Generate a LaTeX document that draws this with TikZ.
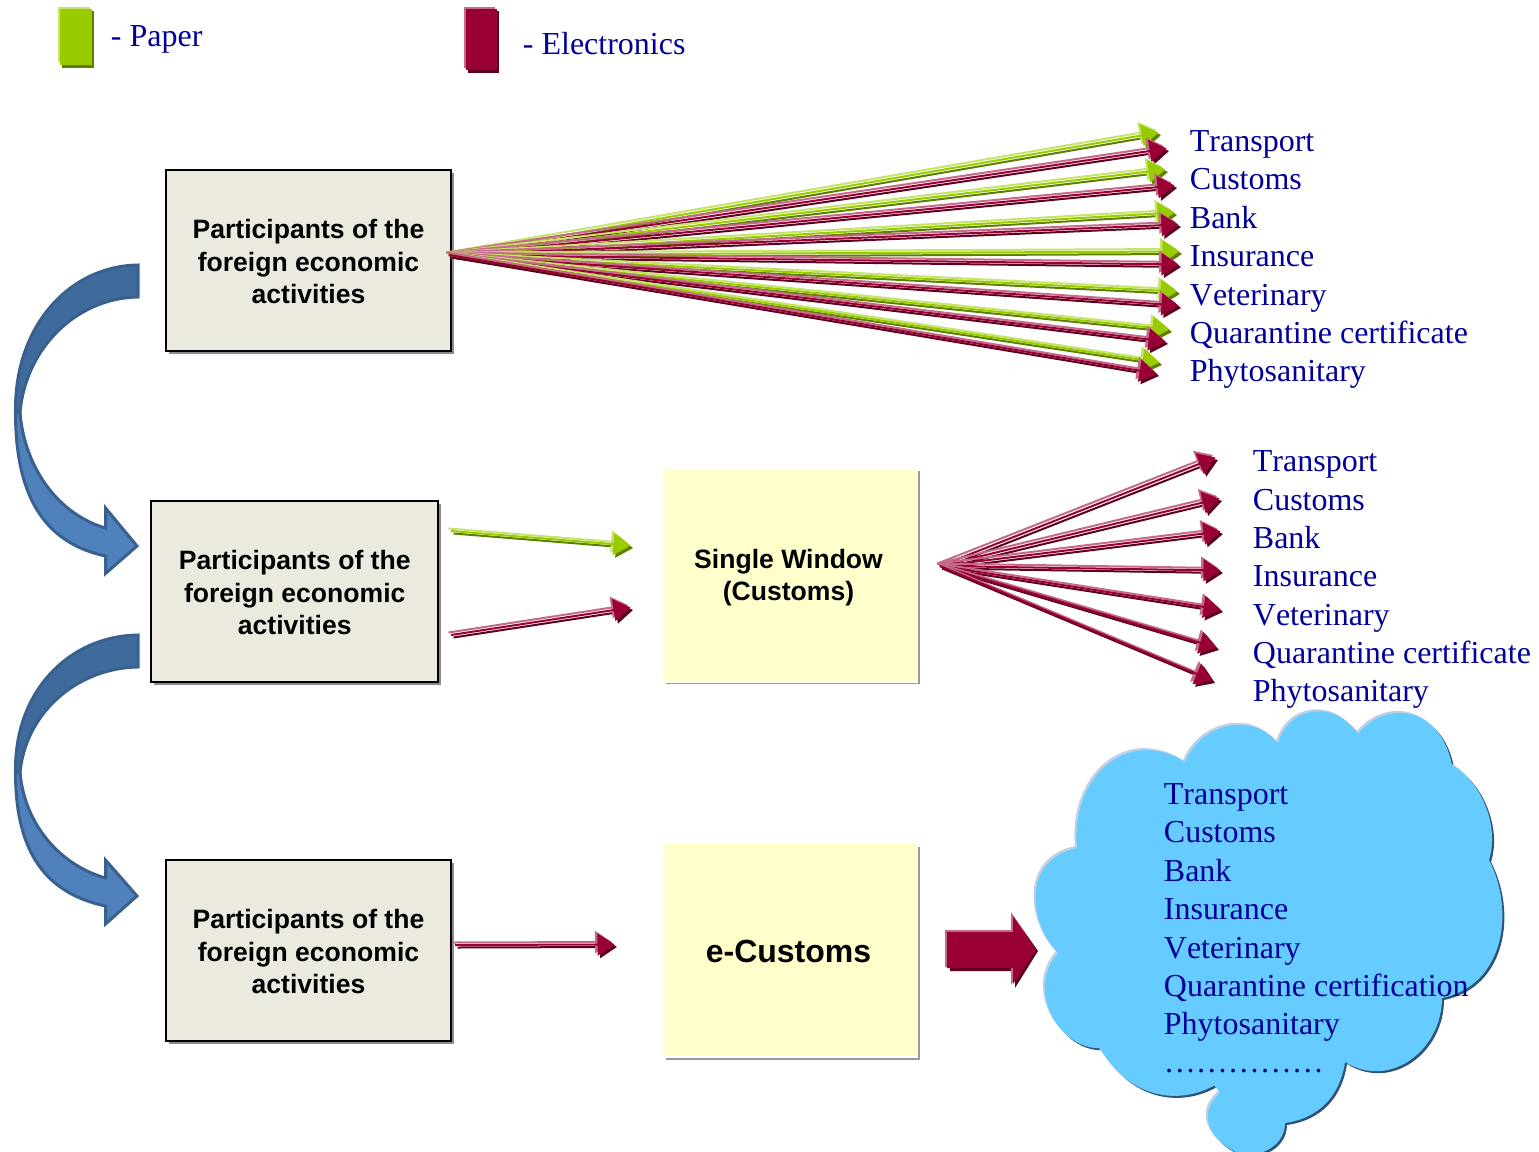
\documentclass[tikz,border=0pt]{standalone}
\usepackage{fontspec}
\setmainfont[Kerning=Off]{Liberation Serif}
\setsansfont{Liberation Sans}
\usetikzlibrary{arrows.meta,calc,shadows}
\definecolor{gmain}{HTML}{99CC00}
\definecolor{glight}{HTML}{C6E36B}
\definecolor{gdark}{HTML}{5F7F00}
\definecolor{mmain}{HTML}{990033}
\definecolor{mlight}{HTML}{C46A8A}
\definecolor{mdark}{HTML}{5E001F}
\definecolor{ttext}{HTML}{000099}
\definecolor{boxfill}{HTML}{ECE9DF}
\definecolor{noteyellow}{HTML}{FFFFCC}
\definecolor{noteedge}{HTML}{999999}
\definecolor{bluelow}{HTML}{4F81BD}
\definecolor{blueup}{HTML}{3F6A9C}
\definecolor{blueedge}{HTML}{38618F}
\definecolor{cloudfill}{HTML}{66CCFF}
\definecolor{cloudlight}{HTML}{C0D0E4}
\definecolor{clouddark}{HTML}{2F5375}
\tikzset{
  partbox/.style={draw=black,line width=1pt,fill=boxfill,minimum width=142.5pt,minimum height=90.5pt,
    align=center,inner sep=0pt,font=\sffamily\bfseries\fontsize{13.28}{16.2}\selectfont,
    drop shadow={shadow xshift=1.5pt,shadow yshift=-1.5pt,fill=black!45,opacity=1}},
  notebox/.style={fill=noteyellow,minimum width=126.75pt,inner sep=0pt,align=center},
  noteshadow/.style={draw=noteedge,line width=.9pt},
  notetext/.style={inner sep=0pt,align=center,font=\sffamily\bfseries\fontsize{13.28}{16}\selectfont},
  listitem/.style={anchor=base west,inner sep=0pt,text=ttext,font=\fontsize{16}{19}\selectfont},
  shaft/.style={line width=1pt,-{Triangle[length=8.5pt,width=11pt]}},
  bluearrow/.style={draw=blueedge,line width=1.5pt,line join=miter}
}
% three-layer arrow: from, to, colour prefix
\newcommand{\layered}[3]{%
  \draw[shaft,#3dark]  ($(#1)+(2.5,2.5)$) -- (#2);
  \draw[shaft,#3light] ($(#1)+(-2.5,-2.5)$) -- ($(#2)+(-5,-5)$);
  \draw[shaft,#3main]  (#1) -- ($(#2)+(-2.5,-2.5)$);
}
\newcommand{\boxtext}{\rule{0pt}{10.7pt}Participants of the\\foreign economic\\activities}
\newcommand{\cloudoutline}{%
  (1077,848) .. controls (1070,780) and (1125,725) .. (1185,762)
  .. controls (1200,725) and (1250,710) .. (1278,743)
  .. controls (1290,705) and (1335,700) .. (1358,734)
  .. controls (1385,700) and (1440,705) .. (1452,765)
  .. controls (1480,780) and (1500,825) .. (1489,860)
  .. controls (1515,910) and (1505,985) .. (1442,998)
  .. controls (1442,1050) and (1390,1090) .. (1345,1062)
  .. controls (1340,1095) and (1320,1118) .. (1285,1123)
  .. controls (1285,1150) and (1250,1162) .. (1232,1150)
  .. controls (1205,1135) and (1200,1110) .. (1220,1093)
  -- (1215,1085)
  .. controls (1180,1105) and (1130,1100) .. (1100,1048)
  .. controls (1060,1050) and (1025,990) .. (1058,953)
  .. controls (1030,925) and (1020,860) .. (1077,848) -- cycle}
\begin{document}
\begin{tikzpicture}[x=0.5pt,y=-0.5pt]
\useasboundingbox (0,0) rectangle (1539,1152);
% legend
\fill[gdark] (62,11) rectangle (94,68);
\fill[glight] (58,7) rectangle (90,62);
\fill[gmain] (60,9) rectangle (92,65);
\fill[mdark] (468,11) rectangle (499,73);
\fill[mlight] (464,7) rectangle (495,68);
\fill[mmain] (466,9) rectangle (497,70);
\node[listitem] (lpaper) at (110.5,46.5) {- Paper};
\node[listitem] (lelec) at (522.5,54) {- Electronics};
% boxes
\node[partbox] (box1) at (308.5,260.5) {\boxtext};
\node[partbox,minimum width=143.5pt] (box2) at (294.75,591.5) {\boxtext};
\node[partbox] (box3) at (308.5,950.5) {\boxtext};
\node[notebox,minimum height=106pt] (sw) at (789.75,574.5) {};
\draw[noteshadow] ($(sw.south west)+(3,2.5)$) -- ($(sw.south east)+(2,2.5)$) -- ($(sw.north east)+(2,3)$);
\node[notetext] (swt) at (788.5,578) {Single Window\\(Customs)};
\node[notebox,minimum height=105.75pt] (ec) at (789.75,950) {};
\draw[noteshadow] ($(ec.south west)+(3,2.5)$) -- ($(ec.south east)+(2,2.5)$) -- ($(ec.north east)+(2,3)$);
\node[notetext,font=\sffamily\bfseries\fontsize{16}{19}\selectfont] (ect) at (788.5,951) {e-Customs};
% list 1
\foreach \n/\t/\yy in {a/Transport/151.5,b/Customs/189.5,c/Bank/228.5,d/Insurance/266.5,e/Veterinary/305,f/Quarantine certificate/343,g/Phytosanitary/381}
  \node[listitem] (ta\n) at (1189.5,\yy) {\t};
% list 2
\foreach \n/\t/\yy in {a/Transport/471,b/Customs/510,c/Bank/548,d/Insurance/586,e/Veterinary/625,f/Quarantine certificate/663,g/Phytosanitary/701}
  \node[listitem] (tb\n) at (1252.5,\yy) {\t};
% fan 1
\coordinate (fa) at (449,255);
\foreach \nm/\gx/\gy/\mx/\my in {a/1161/135/1169/151,b/1168/172/1177/188,c/1177/215/1181/227,d/1182/254/1181/267,e/1180/294/1181/308,f/1172/332/1168/344,g/1162/365/1159/376}{
  \coordinate (g\nm) at (\gx,\gy);
  \coordinate (m\nm) at (\mx,\my);
  \layered{fa}{g\nm}{g}
  \layered{fa}{m\nm}{m}
}
% fan 2
\coordinate (fb) at (940,566);
\foreach \nm/\mx/\my in {a/1218/460,b/1222/501,c/1223/534,d/1223/573,e/1223/612,f/1219/650,g/1215/683}{
  \coordinate (n\nm) at (\mx,\my);
  \layered{fb}{n\nm}{m}
}
% middle arrows
\coordinate (g1s) at (451,531);
\coordinate (g1e) at (633,548);
\layered{g1s}{g1e}{g}
\coordinate (m1s) at (451,635);
\coordinate (m1e) at (633,610);
\layered{m1s}{m1e}{m}
\coordinate (m2s) at (455,945);
\coordinate (m2e) at (617,947);
\layered{m2s}{m2e}{m}
% block arrow
\fill[mdark] (950,938) -- (1014,938) -- (1014,917) -- (1038,951) -- (1015,988) -- (1015,971) -- (950,971) -- cycle;
\fill[mlight] (945,930) -- (1011,930) -- (1011,912) -- (1034,948) -- (1011,985) -- (1011,967) -- (945,967) -- cycle;
\fill[mmain] (947,932) -- (1013,932) -- (1013,916) -- (1036,950) -- (1013,984) -- (1013,968) -- (947,968) -- cycle;
% curved arrows
\draw[bluearrow,fill=blueup] (138,265) .. controls (70,266) and (15,325) .. (15.5,410) -- (20,413)
  .. controls (25,350) and (75,298) .. (138,297) -- cycle;
\draw[bluearrow,fill=bluelow] (15.5,410) .. controls (15,490) and (40,542) .. (105.5,556) -- (105.5,573.5) -- (137,546) -- (105.5,508) -- (105.5,528)
  .. controls (60,515) and (25,470) .. (20,413) -- cycle;
\draw[bluearrow,fill=blueup] (138,635) .. controls (70,636) and (15,690) .. (15.5,770) -- (20,773)
  .. controls (25,715) and (75,668) .. (138,667) -- cycle;
\draw[bluearrow,fill=bluelow] (15.5,770) .. controls (15,845) and (40,892) .. (105.5,906) -- (105.5,924) -- (137,896) -- (105.5,860) -- (105.5,878)
  .. controls (60,865) and (25,825) .. (20,773) -- cycle;
% cloud
\fill[clouddark,shift={(2,2)}] \cloudoutline;
\fill[cloudlight,shift={(-2,-2)}] \cloudoutline;
\fill[cloudfill] \cloudoutline;
\foreach \n/\t/\yy in {a/Transport/804,b/Customs/842,c/Bank/881,d/Insurance/919,e/Veterinary/958,f/Quarantine certification/996,g/Phytosanitary/1034,h/\ldots\ldots\ldots\ldots\ldots/1072}
  \node[listitem] (tc\n) at (1163.5,\yy) {\t};
\end{tikzpicture}
\end{document}
